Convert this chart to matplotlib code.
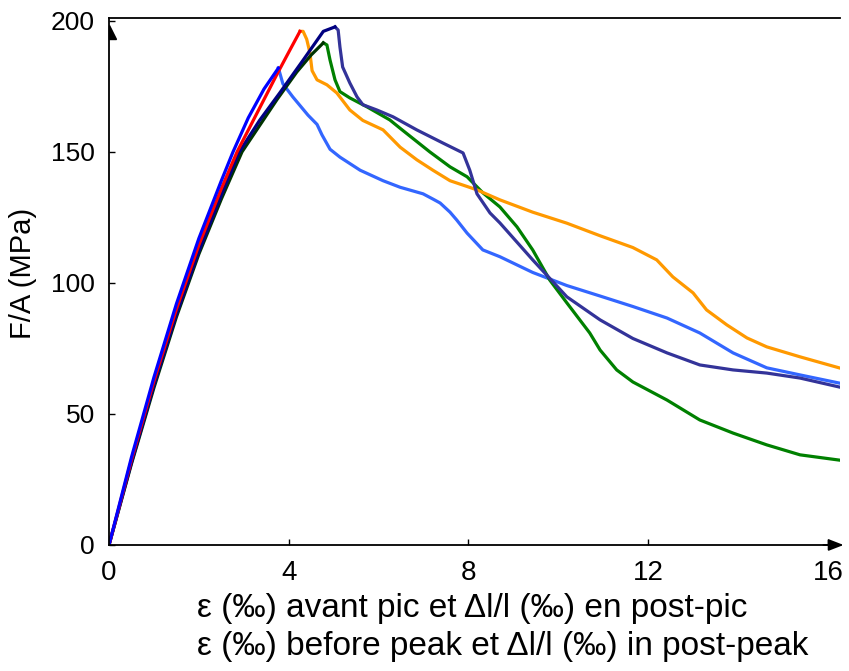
import matplotlib
matplotlib.use("Agg")
import matplotlib.pyplot as plt
from matplotlib.patches import Polygon
from matplotlib.transforms import ScaledTranslation

# pre-peak curves (strain)
blue_pre_x = [0, 0.5, 1.0, 1.5, 2.0, 2.5, 2.76, 3.1, 3.45, 3.77]
blue_pre_y = [0, 33.5, 64, 92, 117, 139, 150, 163, 174, 182]
red_pre_x = [0, 0.5, 1.0, 1.5, 2.0, 2.5, 2.85, 3.3, 3.75, 4.03, 4.25]
red_pre_y = [0, 32.5, 62.5, 90, 114.5, 136, 150, 165, 180, 189, 196]
black_pre_x = [0, 0.5, 1.0, 1.5, 2.0, 2.5, 2.96, 3.35, 3.74, 4.18, 4.5, 4.77]
black_pre_y = [0, 31, 60, 87, 111, 132, 150, 160, 170, 180.5, 187, 191.6]
navy_pre_x = [0, 0.5, 1.0, 1.5, 2.0, 2.5, 2.9, 3.35, 3.8, 4.32, 4.77, 5.03]
navy_pre_y = [0, 31.5, 61, 88, 112, 133.5, 150, 162, 172.5, 185, 196, 197.7]

# post-peak curves (dl/l)
lblue_post_x = [3.77, 3.87, 4.09, 4.43, 4.63, 4.74, 4.92, 5.14, 5.59, 6.1, 6.48, 6.99, 7.21,
                7.37, 7.59, 7.74, 7.97, 8.32, 8.7, 9.43, 10.19, 10.93, 11.66, 12.42, 13.15,
                13.89, 14.64, 15.38, 16.25]
lblue_post_y = [182, 176, 171, 164, 160.5, 156.5, 151, 148, 143, 139, 136.5, 134, 132,
                130.5, 127, 124, 119, 112.6, 110, 104, 99, 95, 91, 86.6, 80.9,
                73.3, 67.6, 64.9, 61.8]
orange_post_x = [4.25, 4.32, 4.4, 4.47, 4.52, 4.63, 4.85, 5.07, 5.36, 5.65, 6.1, 6.48, 6.85,
                 7.21, 7.59, 7.97, 8.19, 8.7, 9.43, 10.19, 10.93, 11.66, 12.19, 12.55, 13.0,
                 13.3, 13.75, 14.2, 14.64, 15.38, 16.25]
orange_post_y = [196, 196, 193, 188, 181, 177.5, 175.6, 172.5, 166, 162, 158.4, 151.8, 147,
                 143, 139, 136.8, 135.5, 131.7, 127, 122.8, 118, 113.5, 108.8, 102.3, 96.2,
                 89.7, 84, 79, 75.6, 71.8, 67.6]
green_post_x = [4.77, 4.85, 4.92, 5.03, 5.14, 5.36, 5.74, 6.25, 6.48, 6.7, 7.14, 7.59, 7.97,
                8.32, 8.7, 9.08, 9.43, 9.81, 10.19, 10.7, 10.93, 11.3, 11.66, 12.42, 13.15,
                13.89, 14.64, 15.38, 16.25]
green_post_y = [191.6, 190.8, 185, 177.5, 173, 170.6, 167.2, 162.2, 159, 156, 150, 144.3, 140.5,
                134.4, 129, 121.4, 112.6, 101.1, 92.4, 80.9, 74.4, 66.8, 62.2, 55.3, 47.7,
                42.7, 38.2, 34.4, 32.4]
slate_post_x = [5.03, 5.1, 5.14, 5.2, 5.36, 5.52, 5.65, 5.96, 6.32, 6.85, 7.43, 7.88, 8.03,
                8.19, 8.48, 8.7, 9.43, 10.19, 10.93, 11.66, 12.42, 13.15, 13.89, 14.64,
                15.38, 16.25]
slate_post_y = [197.7, 196.5, 190, 182.4, 176.3, 171, 168, 166, 163.4, 158.4, 153.4, 149.6, 143,
                134, 126.7, 122.9, 108.8, 94.7, 85.9, 78.8, 73.3, 68.7, 66.8, 65.6,
                63.7, 60.3]

x_ticks = [0, 4, 8, 12, 16]
y_ticks = [0, 50, 100, 150, 200]

fig = plt.figure(figsize=(8.49, 6.71), dpi=100)
ax = fig.add_axes([0.1284, 0.1878, 0.861, 0.7854])

lw = 2.3
ax.plot(lblue_post_x, lblue_post_y, color="#3366FF", lw=lw)
ax.plot(green_post_x, green_post_y, color="#008000", lw=lw)
ax.plot(orange_post_x, orange_post_y, color="#FF9900", lw=lw)
ax.plot(slate_post_x, slate_post_y, color="#333399", lw=lw)
ax.plot(black_pre_x, black_pre_y, color="#003300", lw=lw)
ax.plot(navy_pre_x, navy_pre_y, color="#000080", lw=lw)
ax.plot(red_pre_x, red_pre_y, color="#FF0000", lw=lw)
ax.plot(blue_pre_x, blue_pre_y, color="#0000FF", lw=lw)

ax.set_xlim(0, 16.27)
ax.set_ylim(0, 201.1)
ax.spines["right"].set_visible(False)
for s in ("left", "bottom", "top"):
    ax.spines[s].set_linewidth(1.3)
    ax.spines[s].set_color("black")

ax.set_xticks(x_ticks)
ax.set_yticks(y_ticks)
ax.tick_params(direction="in", length=4, width=1)
for lab in ax.get_xticklabels():
    lab.set_fontfamily(["Liberation Sans Narrow", "Liberation Sans", "DejaVu Sans"])
    lab.set_fontsize(20)
for lab in ax.get_yticklabels():
    lab.set_fontfamily(["Liberation Sans", "DejaVu Sans"])
    lab.set_fontsize(19)
ax.tick_params(axis="x", pad=11)
ax.tick_params(axis="y", pad=10)

ax.set_ylabel("F/A (MPa)", fontsize=21, family=["Liberation Sans", "DejaVu Sans"])
ax.yaxis.set_label_coords(-0.098, 0.516)

# axis arrows
ax.annotate("", xy=(16.35, 0), xytext=(15.9, 0), xycoords="data",
            arrowprops=dict(arrowstyle="-|>,head_length=0.9,head_width=0.35",
                            color="black", lw=1.3, shrinkA=0, shrinkB=0),
            annotation_clip=False)
tr = fig.dpi_scale_trans + ScaledTranslation(0, 198.5, ax.transData)
ax.add_patch(Polygon([(0, 0), (0, -0.14), (0.07, -0.14)], closed=True,
                     facecolor="black", edgecolor="black", transform=tr, clip_on=False))

txt_family = ["Liberation Sans", "DejaVu Sans"]
fig.text(197 / 849, 1 - 609 / 671, "\u03b5 (\u2030) avant pic et \u0394l/l (\u2030) en post-pic",
         fontsize=24, family=txt_family, ha="left", va="center")
fig.text(197 / 849, 1 - 646 / 671, "\u03b5 (\u2030) before peak et \u0394l/l (\u2030) in post-peak",
         fontsize=24, family=txt_family, ha="left", va="center")

fig.savefig("out.png", dpi=100, facecolor="white")
